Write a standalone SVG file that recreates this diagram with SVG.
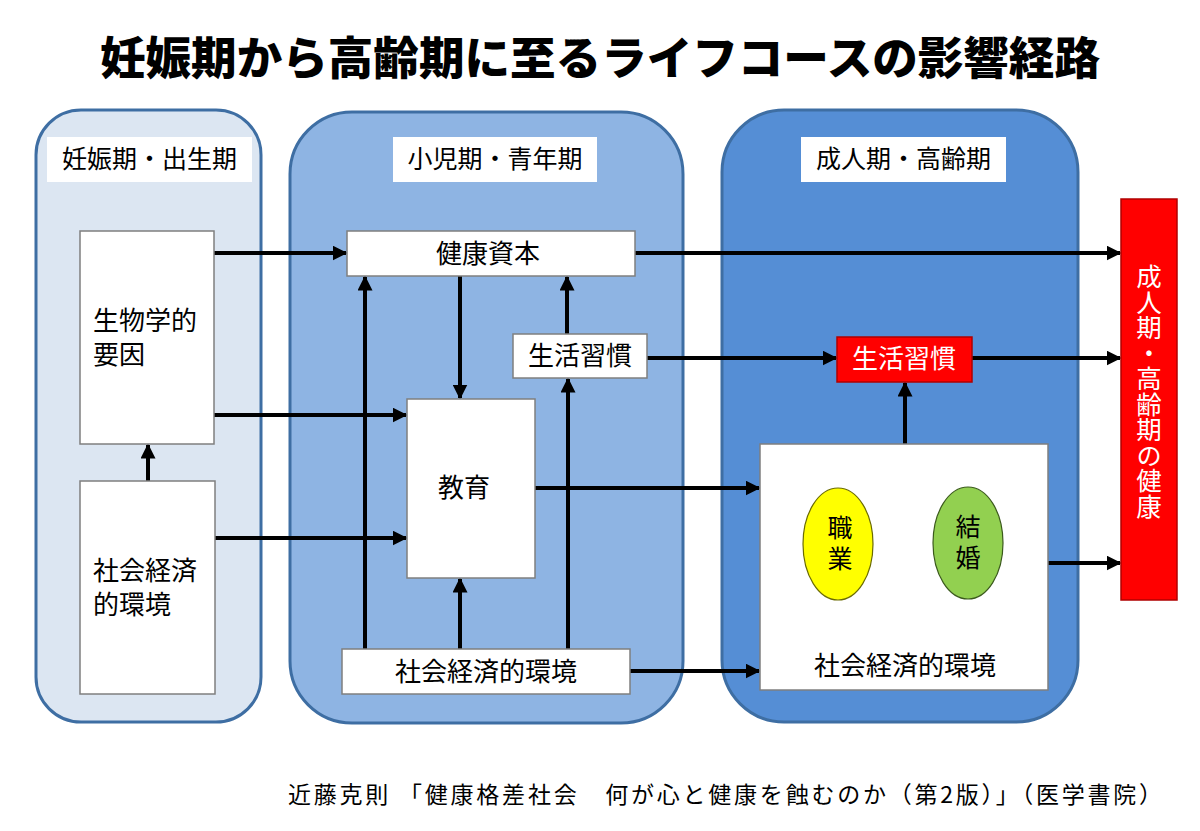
<svg xmlns="http://www.w3.org/2000/svg" width="1200" height="831" viewBox="0 0 1200 831">
<style>
text{font-family:"Noto Sans CJK JP","Noto Sans CJK SC",sans-serif;fill:#000}
.t{font-size:26px}
.lbl{font-size:25px}
.c{text-anchor:middle}
.box{fill:#fff;stroke:#7f7f7f;stroke-width:1.5}
.lblbox{fill:#fff}
.red{fill:#ff0000;stroke:#b00000;stroke-width:1.5}
.ar{stroke:#000;stroke-width:4;fill:none;marker-end:url(#ah)}
.v{writing-mode:vertical-rl;font-size:25px;letter-spacing:6px}
</style>
<defs>
<marker id="ah" viewBox="0 0 10 10" markerWidth="15" markerHeight="15" markerUnits="userSpaceOnUse" refX="9" refY="5" orient="auto">
<path d="M0,0 L10,5 L0,10 z" fill="#000"/>
</marker>
</defs>
<rect width="1200" height="831" fill="#fff"/>
<text x="100" y="75" textLength="1000" lengthAdjust="spacingAndGlyphs" style="font-size:45px;font-weight:900">妊娠期から高齢期に至るライフコースの影響経路</text>

<g id="panel-prenatal">
<rect x="36" y="110" width="225" height="612" rx="45" fill="#dce6f2" stroke="#3e6ea3" stroke-width="3"/>
<rect x="47" y="137" width="205" height="45" class="lblbox"/>
<text x="149.5" y="168" class="lbl c">妊娠期・出生期</text>
</g>
<g id="panel-child">
<rect x="290" y="112" width="393" height="611" rx="62" fill="#8eb4e3" stroke="#3e6ea3" stroke-width="3"/>
<rect x="393" y="137" width="204" height="45" class="lblbox"/>
<text x="495" y="168" class="lbl c">小児期・青年期</text>
</g>
<g id="panel-adult">
<rect x="722" y="110" width="356" height="612" rx="62" fill="#558ed5" stroke="#3e6ea3" stroke-width="3"/>
<rect x="801" y="137" width="205" height="45" class="lblbox"/>
<text x="903.5" y="168" class="lbl c">成人期・高齢期</text>
</g>

<g id="connectors">
<line x1="148" y1="481" x2="148" y2="445" class="ar"/>
<line x1="214" y1="253" x2="346" y2="253" class="ar"/>
<line x1="214" y1="415" x2="406" y2="415" class="ar"/>
<line x1="215" y1="538" x2="406" y2="538" class="ar"/>
<line x1="365" y1="649" x2="365" y2="277" class="ar"/>
<line x1="460" y1="276" x2="460" y2="398" class="ar"/>
<line x1="460" y1="649" x2="460" y2="579" class="ar"/>
<line x1="567" y1="334" x2="567" y2="277" class="ar"/>
<line x1="568" y1="649" x2="568" y2="379" class="ar"/>
<line x1="535" y1="488" x2="759" y2="488" class="ar"/>
<line x1="630" y1="671" x2="759" y2="671" class="ar"/>
<line x1="635" y1="253" x2="1120" y2="253" class="ar"/>
<line x1="647" y1="358" x2="836" y2="358" class="ar"/>
<line x1="972" y1="358" x2="1120" y2="358" class="ar"/>
<line x1="905" y1="444" x2="905" y2="383" class="ar"/>
<line x1="1048" y1="563" x2="1120" y2="563" class="ar"/>
</g>

<g id="bio">
<rect x="80" y="231" width="134" height="213" class="box"/>
<text class="t"><tspan x="93" y="330">生物学的</tspan><tspan x="93" y="364">要因</tspan></text>
</g>
<g id="ses-prenatal">
<rect x="80" y="481" width="135" height="213" class="box"/>
<text class="t"><tspan x="93" y="580">社会経済</tspan><tspan x="93" y="614">的環境</tspan></text>
</g>
<g id="health-capital">
<rect x="347" y="231" width="288" height="45" class="box"/>
<text x="488" y="263" class="t c">健康資本</text>
</g>
<g id="lifestyle-child">
<rect x="513" y="334" width="134" height="44" class="box"/>
<text x="580" y="365" class="t c">生活習慣</text>
</g>
<g id="education">
<rect x="407" y="399" width="128" height="179" class="box"/>
<text x="464" y="497" class="t c">教育</text>
</g>
<g id="ses-child">
<rect x="342" y="649" width="288" height="45" class="box"/>
<text x="486" y="681" class="t c">社会経済的環境</text>
</g>
<g id="lifestyle-adult">
<rect x="837" y="337" width="135" height="45" class="red"/>
<text x="904" y="368" class="t c" style="fill:#fff">生活習慣</text>
</g>
<g id="ses-adult">
<rect x="760" y="444" width="288" height="246" class="box"/>
<text x="905" y="675" class="t c">社会経済的環境</text>
</g>
<g id="occupation">
<ellipse cx="838" cy="544" rx="35" ry="56" fill="#ffff00" stroke="#6b6b00" stroke-width="1.2"/>
<text x="840" y="515" class="v">職業</text>
</g>
<g id="marriage">
<ellipse cx="968" cy="543" rx="35" ry="56" fill="#92d050" stroke="#3b5a1c" stroke-width="1.2"/>
<text x="968" y="514" class="v">結婚</text>
</g>
<g id="adult-health">
<rect x="1121" y="199" width="56" height="401" class="red"/>
<text x="1149" y="264" writing-mode="vertical-rl" style="font-size:25.5px;fill:#fff">成人期・高齢期の健康</text>
</g>
<text x="288" y="803" textLength="874" lengthAdjust="spacing" style="font-size:23px">近藤克則 「健康格差社会　何が心と健康を蝕むのか（第2版）」（医学書院）</text>
</svg>
